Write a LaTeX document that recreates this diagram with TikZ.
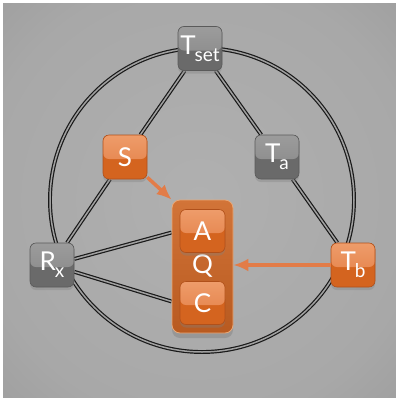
\documentclass[tikz,border=0pt]{standalone}
\usepackage{fontspec}
\setmainfont{Lato}
\usetikzlibrary{arrows.meta,shadows}
\definecolor{bga}{HTML}{B0B0B0}
\definecolor{bgb}{HTML}{A8A8A8}
\definecolor{bgc}{HTML}{929292}
\definecolor{bgd}{HTML}{858585}
\definecolor{gtopa}{HTML}{9C9C9C}
\definecolor{gtopb}{HTML}{858585}
\definecolor{gbot}{HTML}{6A6A6A}
\definecolor{gedge}{HTML}{5A5A5A}
\definecolor{otopa}{HTML}{EE9C6A}
\definecolor{otopb}{HTML}{E27C42}
\definecolor{obot}{HTML}{D4641F}
\definecolor{oedge}{HTML}{B0501A}
\definecolor{qtop}{HTML}{D27438}
\definecolor{qbot}{HTML}{B85A20}
\definecolor{qedge}{HTML}{E8A878}
\definecolor{arr}{HTML}{E27C48}
\definecolor{gap}{HTML}{A0A0A0}
\pgfdeclareradialshading{bgshade}{\pgfpoint{0bp}{0bp}}{color(0bp)=(bga); color(28bp)=(bgb); color(50bp)=(bgc); color(72bp)=(bgd)}
\pgfdeclarelayer{bg}
\pgfsetlayers{bg,main}
\begin{document}
\begin{tikzpicture}[x=1pt,y=-1pt,
  basebox/.style={rounded corners=6pt, minimum width=44pt, minimum height=44pt,
    inner sep=0pt, text=white, font=\fontsize{26}{28}\selectfont, line width=0.6pt,
    drop shadow={opacity=0.35, shadow xshift=0pt, shadow yshift=-3pt}},
  graybox/.style={basebox, fill=gbot, draw=gedge,
    path picture={\fill[top color=gtopa, bottom color=gtopb]
      (path picture bounding box.north west) rectangle ([yshift=-2pt]path picture bounding box.east);}},
  orangebox/.style={basebox, fill=obot, draw=oedge,
    path picture={\fill[top color=otopa, bottom color=otopb]
      (path picture bounding box.north west) rectangle ([yshift=-2pt]path picture bounding box.east);}},
  qbox/.style={rounded corners=8pt, minimum width=61pt, minimum height=133pt, inner sep=0pt,
    top color=qtop, bottom color=qbot, draw=qedge, line width=0.8pt, text=white,
    font=\fontsize{26}{28}\selectfont,
    drop shadow={opacity=0.45, shadow xshift=0pt, shadow yshift=-5pt}},
  dline/.style={draw=black!90, line width=1.2pt, double=gap, double distance=1.5pt},
  oarrow/.style={draw=arr, line width=3.5pt, -{Latex[length=15pt,width=13pt]}}
]
\newcommand{\lowsub}[2]{#1\kern-1pt\raisebox{-7pt}{\fontsize{19}{19}\selectfont #2}}
\begin{pgfonlayer}{bg}
  \fill[white] (0,0) rectangle (396,400);
  \shade[shading=bgshade] (3,3) rectangle (396,397);
\end{pgfonlayer}

\node[qbox] (Q) at (202.5,266.5) {Q};
\node[orangebox, minimum width=45pt, minimum height=43pt] (A) at (202.5,231) {A};
\node[orangebox, minimum width=45pt, minimum height=43pt] (C) at (202.5,303) {C};

\node[graybox] (Tset) at (200,48.5) {\lowsub{T}{set}};
\node[orangebox] (S) at (125,157) {S};
\node[graybox] (Ta) at (277,157) {\lowsub{T}{a}};
\node[graybox] (Rx) at (52,265) {\lowsub{R}{x}};
\node[orangebox] (Tb) at (353,265) {\lowsub{T}{b}};

\coordinate (Qu) at ([yshift=34pt]Q.west);
\coordinate (Ql) at ([yshift=-35pt]Q.west);
\coordinate (O) at (202,200);

\begin{pgfonlayer}{bg}
  \draw[dline] (O) circle[radius=152pt];
  \draw[dline] (Tset) -- (S);
  \draw[dline] (Tset) -- (Ta);
  \draw[dline] (Ta) -- (Tb);
  \draw[dline] (S) -- (Rx);
  \draw[dline] (Rx) -- (Qu);
  \draw[dline] (Rx) -- (Ql);
\end{pgfonlayer}

\draw[oarrow] (S) -- (Q.north west);
\draw[oarrow] (Tb.west) -- (Tb.west -| Q.east);
\end{tikzpicture}
\end{document}
